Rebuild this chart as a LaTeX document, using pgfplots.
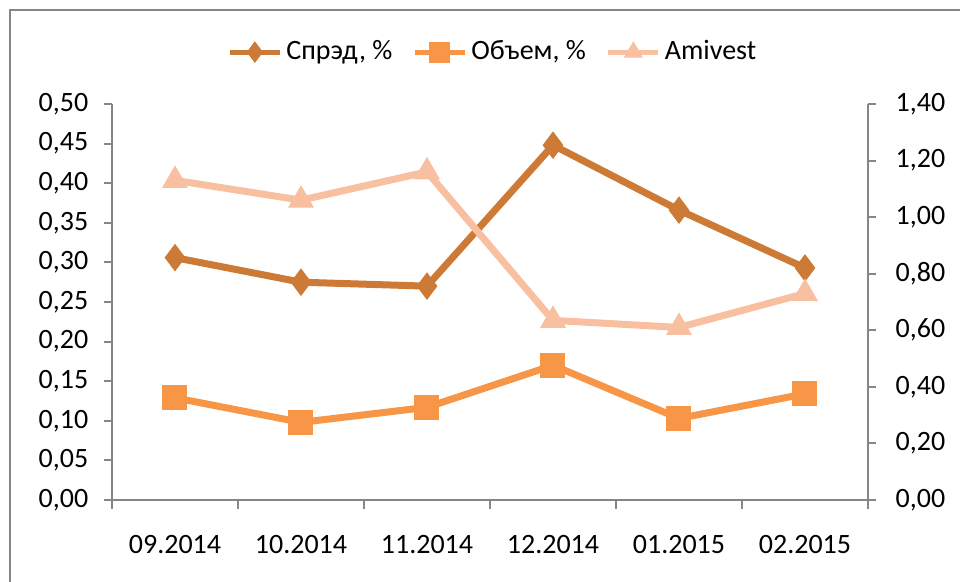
\documentclass[border=0pt]{standalone}
\usepackage{pgfplots}
\pgfplotsset{compat=1.18}
\usepackage{fontspec}
\setmainfont{Carlito}
\definecolor{cspread}{RGB}{204,122,53}
\definecolor{cvol}{RGB}{247,150,70}
\definecolor{cami}{RGB}{248,191,160}
\definecolor{cax}{RGB}{134,134,134}
\begin{document}
\fontsize{14}{16}\selectfont
\begin{tikzpicture}
\useasboundingbox (0pt,0pt) rectangle (480pt,291pt);
\draw[cax, line width=1pt] (5pt,-10pt) -- (5pt,286pt) -- (490pt,286pt);
\pgfplotsset{
  common/.style={
    at={(56pt,41pt)}, anchor=south west, scale only axis,
    width=378pt, height=198pt,
    xmin=-0.5, xmax=5.5,
    axis line style={cax, line width=1pt},
    tick style={cax, line width=1pt},
    tick label style={font=\fontsize{14}{16}\selectfont},
    /pgf/number format/.cd, assume math mode=true, use comma, fixed, fixed zerofill, precision=2,
    /pgfplots/.cd,
    clip=false,
  },
  sp/.style={cspread, line width=3.5pt, mark=diamond*, mark size=6.5pt, mark options={solid, fill=cspread, line width=0.5pt}},
  vo/.style={cvol, line width=3.5pt, mark=square*, mark size=6pt, mark options={solid, fill=cvol, line width=0.5pt}},
  am/.style={cami, line width=3.5pt, mark=triangle*, mark size=7pt, mark options={solid, fill=cami, line width=0.5pt}},
}
\begin{axis}[common,
  axis x line*=bottom, axis y line*=left,
  ymin=0, ymax=0.5, ytick={0,0.05,...,0.501},
  xtick={0,...,5}, xticklabels={09.2014,10.2014,11.2014,12.2014,01.2015,02.2015},
  major x tick style={draw=none},
  minor xtick={-0.5,0.5,...,5.5},
  minor tick length=4.5pt,
  x tick label style={yshift=-9pt},
  tick align=outside, major tick length=4pt,
  yticklabel style={xshift=-3pt},
  legend columns=3,
  legend style={draw=none, fill=none, at={(0.505,1.131)}, anchor=center,
    /tikz/every even column/.append style={column sep=8pt},
    font=\fontsize{14}{16}\selectfont},
  legend image code/.code={\draw[mark repeat=2,mark phase=2, line width=2.5pt, mark size=5pt] plot coordinates {(0pt,0pt)(12.5pt,0pt)(25pt,0pt)};},
]
\addplot[sp] coordinates {(0,0.306)(1,0.275)(2,0.270)(3,0.448)(4,0.366)(5,0.293)};
\addlegendentry{Спрэд, \%}
\addplot[vo] coordinates {(0,0.129)(1,0.098)(2,0.117)(3,0.170)(4,0.103)(5,0.134)};
\addlegendentry{Объем, \%}
\addlegendimage{am}
\addlegendentry{Amivest}
\end{axis}
\begin{axis}[common,
  axis x line=none, axis y line*=right,
  ymin=0, ymax=1.4, ytick={0,0.2,...,1.41},
  tick align=outside, major tick length=4pt,
  yticklabel style={xshift=5pt},
]
\addplot[am] coordinates {(0,1.13)(1,1.06)(2,1.16)(3,0.635)(4,0.61)(5,0.73)};
\end{axis}
\end{tikzpicture}
\end{document}
